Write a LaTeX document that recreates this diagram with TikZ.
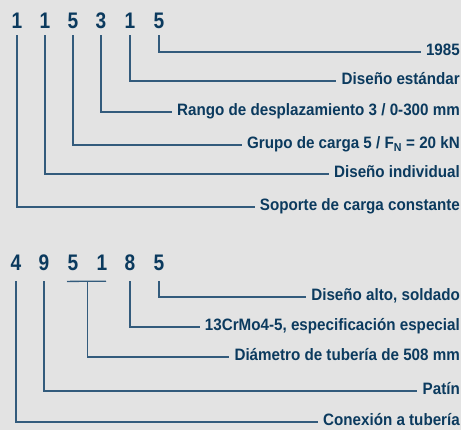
\documentclass[tikz,border=0pt]{standalone}
\usepackage{fontspec}
\setmainfont{Liberation Sans}
\newfontfamily\digitfont{Liberation Sans}[FakeStretch=0.85]
\newfontfamily\descfont{Liberation Sans}[FakeStretch=0.92]
\usetikzlibrary{calc}
\definecolor{codeblue}{HTML}{0B3A5E}
\definecolor{linkblue}{HTML}{335B7C}
\definecolor{panelgrey}{HTML}{E3E3E3}
\tikzset{
	digit/.style={anchor=base, inner xsep=0pt, inner ysep=6pt, text=codeblue, font=\digitfont\fontsize{22.5}{22.5}\selectfont\bfseries},
	desc/.style={anchor=east, inner xsep=5pt, inner ysep=0pt, text height=0.7em, text depth=0pt, text=codeblue, font=\descfont\fontsize{16.5}{16.5}\selectfont\bfseries},
	link/.style={draw=linkblue, line width=1.3pt}
}
\begin{document}
\begin{tikzpicture}[x=1pt,y=-1pt]
		\fill[panelgrey] (0,0) rectangle (461,430);
		\useasboundingbox (0,0) rectangle (461,430);
		\node[digit] (d1) at (17,29) {1};
		\node[digit] (d2) at (45,29) {1};
		\node[digit] (d3) at (73,29) {5};
		\node[digit] (d4) at (101,29) {3};
		\node[digit] (d5) at (130,29) {1};
		\node[digit] (d6) at (159,29) {5};
		\node[desc] (t6) at (465,52) {1985};
		\node[desc] (t5) at (465,81) {Diseño estándar};
		\node[desc] (t4) at (465,112) {Rango de desplazamiento 3 / 0-300 mm};
		\node[desc] (t3) at (465,145) {Grupo de carga 5 / F\textsubscript{N} = 20 kN};
		\node[desc] (t2) at (465,174) {Diseño individual};
		\node[desc] (t1) at (465,207) {Soporte de carga constante};
		\draw[link] (d6.south) |- (t6.west);
		\draw[link] (d5.south) |- (t5.west);
		\draw[link] (d4.south) |- (t4.west);
		\draw[link] (d3.south) |- (t3.west);
		\draw[link] (d2.south) |- (t2.west);
		\draw[link] (d1.south) |- (t1.west);
		\node[digit,inner ysep=10pt] (e1) at (16,271) {4};
		\node[digit,inner ysep=10pt] (e2) at (44,271) {9};
		\node[digit,inner ysep=10pt] (e3) at (73,271) {5};
		\node[digit,inner ysep=10pt] (e4) at (102,271) {1};
		\node[digit,inner ysep=10pt] (e5) at (130,271) {8};
		\node[digit,inner ysep=10pt] (e6) at (159,271) {5};
		\node[desc] (u6) at (465,297) {Diseño alto, soldado};
		\node[desc] (u5) at (465,327) {13CrMo4-5, especificación especial};
		\node[desc] (u3) at (465,357) {Diámetro de tubería de 508 mm};
		\node[desc] (u2) at (465,391) {Patín};
		\node[desc] (u1) at (465,422) {Conexión a tubería};
		\coordinate (e34) at ($(e3.south)!0.5!(e4.south)$);
		\draw[link] ($(e3.south)+(-6,0)$) -- ($(e4.south)+(4,0)$);
		\draw[link] (e6.south) |- (u6.west);
		\draw[link] (e5.south) |- (u5.west);
		\draw[link] (e34) |- (u3.west);
		\draw[link] (e2.south) |- (u2.west);
		\draw[link] (e1.south) |- (u1.west);
	\end{tikzpicture}
\end{document}
